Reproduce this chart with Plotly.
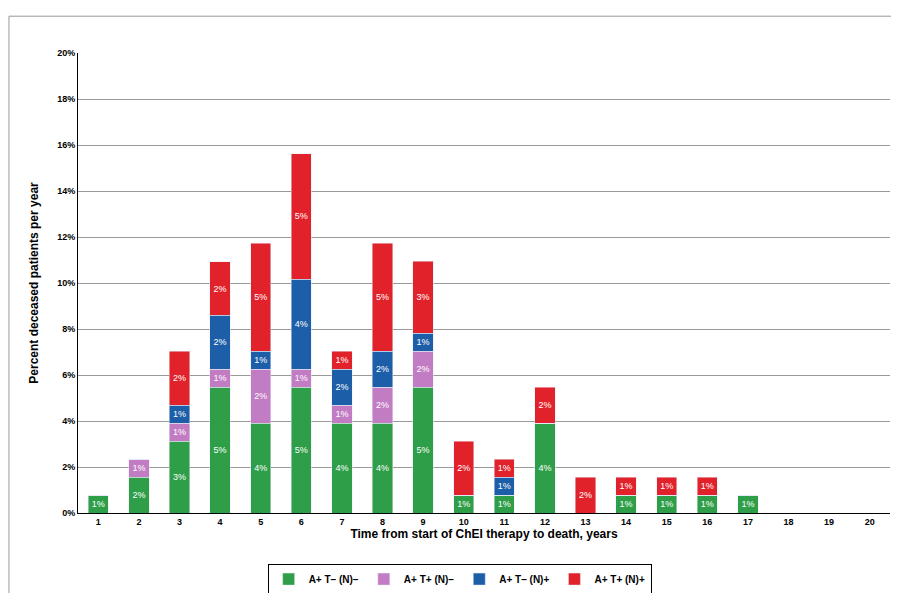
import plotly.graph_objects as go

years = [str(i) for i in range(1, 21)]
# percent of deceased patients per year (1 patient = 0.78%)
green = [0.78, 1.56, 3.13, 5.47, 3.91, 5.47, 3.91, 3.91, 5.47, 0.78, 0.78, 3.91, 0, 0.78, 0.78, 0.78, 0.78, 0, 0, 0]
pink = [0, 0.78, 0.78, 0.78, 2.34, 0.78, 0.78, 1.56, 1.56, 0, 0, 0, 0, 0, 0, 0, 0, 0, 0, 0]
blue = [0, 0, 0.78, 2.34, 0.78, 3.91, 1.56, 1.56, 0.78, 0, 0.78, 0, 0, 0, 0, 0, 0, 0, 0, 0]
red = [0, 0, 2.34, 2.34, 4.69, 5.47, 0.78, 4.69, 3.13, 2.34, 0.78, 1.56, 1.56, 0.78, 0.78, 0.78, 0, 0, 0, 0]

series = [
    ("A+ T\u2013 (N)\u2013", green, "#2e9e48"),
    ("A+ T+ (N)\u2013", pink, "#c27cc4"),
    ("A+ T\u2013 (N)+", blue, "#1d5ea8"),
    ("A+ T+ (N)+", red, "#e2222b"),
]

fig = go.Figure()
for name, vals, col in series:
    fig.add_trace(go.Bar(
        x=years, y=vals, name="<b>" + name + "</b>", marker_color=col,
        text=[f"{round(v):d}%" if v > 0 else "" for v in vals],
        textposition="inside", insidetextanchor="middle",
        textfont=dict(color="white", size=9, family="Arial"),
        width=0.5,
    ))

fig.update_layout(
    barmode="stack",
    width=899, height=593,
    paper_bgcolor="white", plot_bgcolor="white",
    margin=dict(l=70, r=17, t=45, b=88, autoexpand=False),
    font=dict(family="Arial", size=10, color="black"),
    uniformtext=dict(minsize=7, mode="show"),
    legend=dict(orientation="h", traceorder="normal", x=0.47, xanchor="center", y=-0.11, yanchor="top",
                bordercolor="black", borderwidth=1, font=dict(size=10),
                itemwidth=30, tracegroupgap=0),
    xaxis=dict(title=dict(text="<b>Time from start of ChEI therapy to death, years</b>", standoff=2),
               showline=True, linecolor="black", tickfont=dict(size=9), ticks="",
               tickprefix="<b>", ticksuffix="</b>"),
    yaxis=dict(title=dict(text="<b>Percent deceased patients per year</b>"),
               range=[0, 20], dtick=2, tickprefix="<b>", ticksuffix="%</b>", tickfont=dict(size=9),
               showgrid=True, gridcolor="#999", showline=True, linecolor="black",
               zeroline=False),
    shapes=[dict(type="rect", xref="paper", yref="paper", x0=-0.085, y0=-0.18, x1=1.015, y1=1.08,
                 line=dict(color="#999", width=1))],
)
fig.write_html("out.html")
